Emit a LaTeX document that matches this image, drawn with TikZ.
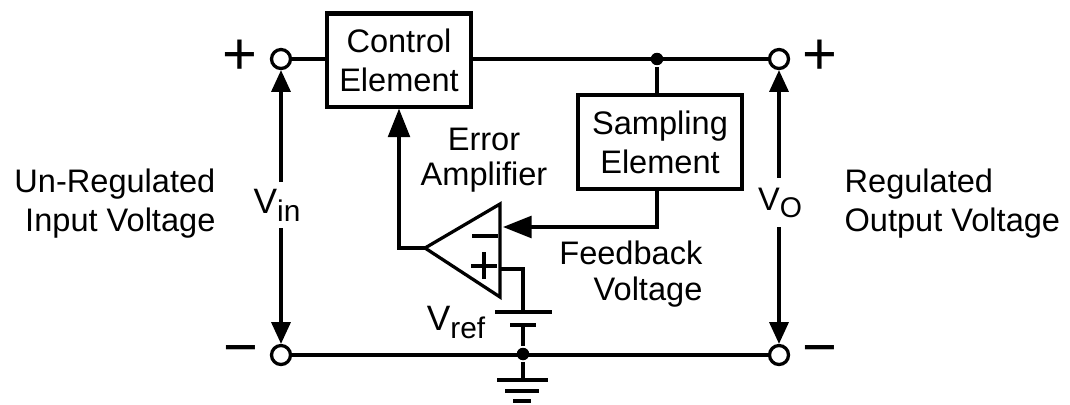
\documentclass[tikz,border=0pt]{standalone}
\usepackage{fontspec}
\setmainfont{Liberation Sans}
\usetikzlibrary{arrows.meta}

\begin{document}
\begin{tikzpicture}[x=0.3685pt,y=-0.3685pt,line width=1.2pt,
    >={Triangle[length=8pt,width=7pt]},font=\fontsize{12}{14.4}\selectfont]
  \tikzstyle{block}=[draw,line width=1.5pt,align=center,inner sep=0pt]
  \tikzstyle{term}=[circle,draw,fill=white,minimum size=7pt,inner sep=0pt]
  \tikzstyle{dot}=[circle,fill,minimum size=4.6pt,inner sep=0pt]
  \tikzstyle{sign}=[font=\fontsize{22}{22}\selectfont,inner sep=0pt]
  \tikzstyle{sig}=[-{Triangle[length=10.5pt,width=8pt]}]

  \useasboundingbox (0,0) rectangle (1070,404);

  % terminals
  \node[term] (inP)  at (281,59)  {};
  \node[term] (inN)  at (281,355) {};
  \node[term] (outP) at (779,59)  {};
  \node[term] (outN) at (779,355) {};
  \node[sign] (sgnInP)  at (240,57)  {+};
  \node[sign] (sgnInN)  at (241,356) {−};
  \node[sign] (sgnOutP) at (820,57)  {+};
  \node[sign] (sgnOutN) at (820,356) {−};

  % blocks
  \node[block,minimum width=53pt,minimum height=34.3pt] (ctrl) at (399,60) {Control\\Element};
  \node[block,minimum width=60.4pt,minimum height=34.6pt] (samp) at (660,142) {Sampling\\Element};

  \node[dot] (jTop) at (657,59) {};
  \node[dot] (jBot) at (523,354) {};

  % error amplifier
  \coordinate (ampO) at (425,248);
  \coordinate (ampT) at (500,204);
  \coordinate (ampB) at (500,297);
  \coordinate (ampM) at (503,227);
  \coordinate (ampP) at (500,269);
  \draw (ampO) -- (ampT) -- (ampB) -- cycle;
  \draw (472,236) -- (498,236);
  \draw (471,266) -- (497,266) (484,252) -- (484,279);

  % reference battery and ground
  \coordinate (batT) at (523,312);
  \coordinate (batB) at (523,325);
  \coordinate (gnd) at (523,380);
  \draw (495,312) -- (552,312);
  \draw (510,325) -- (536,325);
  \draw (497,380) -- (548,380) (505,391) -- (539,391) (513,401) -- (531,401);

  % wires
  \draw (inP) -- (inP -| ctrl.west);
  \draw (ctrl.east |- inP) -- (outP);
  \draw (jTop) -- (jTop |- samp.north);
  \draw[sig] (samp.south -| jTop) -- (jTop |- ampM) -- (ampM);
  \draw[sig] (ampO) -| (ctrl.south);
  \draw (ampP) -| (batT);
  \draw (batB) -- (jBot) -- (gnd);
  \draw (inN) -- (outN);

  % voltages
  \node[inner sep=2pt,anchor=base] (vin) at (277,213)
    {\fontsize{13}{13}\selectfont V\raisebox{-3pt}{\fontsize{11}{11}\selectfont in}};
  \draw[->] (vin.north -| inP) -- (inP);
  \draw[->] (vin.south -| inN) -- (inN);
  \node[inner sep=3pt,anchor=base] (vout) at (780,210)
    {V\raisebox{-2.6pt}{\fontsize{10.5}{10.5}\selectfont O}};
  \draw[->] (vout.north -| outP) -- (outP);
  \draw[->] (vout.south -| outN) -- (outN);
  \node[inner sep=0pt,anchor=base] (vref) at (456,330)
    {\fontsize{13}{13}\selectfont V\raisebox{-3pt}{\fontsize{11}{11}\selectfont ref}};

  % labels
  \node[align=right,inner sep=0pt,anchor=east] (lblIn) at (217,204) {Un-Regulated\\Input Voltage};
  \node[align=left,inner sep=0pt,anchor=west] (lblOut) at (843,204) {Regulated\\Output Voltage};
  \node[align=center,inner sep=0pt,font=\fontsize{12}{13}\selectfont] (lblAmp) at (484,160) {Error\\Amplifier};
  \node[align=right,inner sep=0pt,anchor=east,font=\fontsize{12}{13}\selectfont] (lblFb) at (704,274) {Feedback\\Voltage};
\end{tikzpicture}
\end{document}
